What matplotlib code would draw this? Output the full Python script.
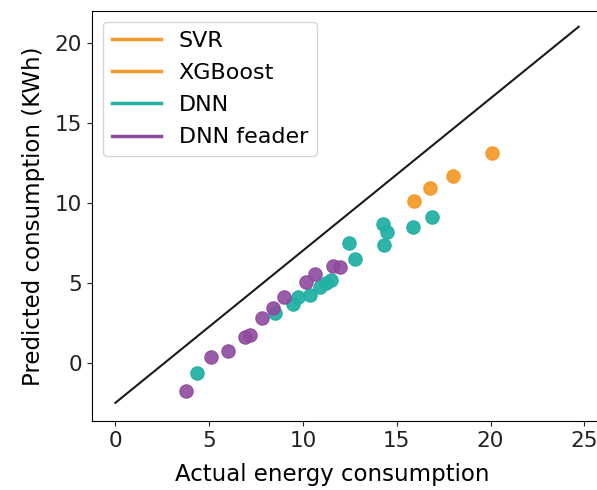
import matplotlib.pyplot as plt
from matplotlib.lines import Line2D

# values
svr_x = [15.9, 16.8]
svr_y = [10.1, 10.9]
xgb_x = [18.0, 20.1]
xgb_y = [11.7, 13.1]
dnn_x = [4.33, 8.49, 9.47, 9.74, 10.36, 10.89, 11.25, 11.51, 12.45, 12.75,
         14.26, 14.50, 14.31, 15.86, 16.89]
dnn_y = [-0.64, 3.11, 3.67, 4.14, 4.25, 4.73, 4.98, 5.19, 7.48, 6.48,
         8.69, 8.17, 7.38, 8.48, 9.14]
feeder_x = [3.79, 5.12, 5.98, 6.90, 7.20, 7.82, 8.40, 8.99, 10.18, 10.66, 11.60, 11.96]
feeder_y = [-1.73, 0.36, 0.77, 1.64, 1.75, 2.83, 3.42, 4.11, 5.08, 5.54, 6.02, 5.96]
ref_x = [0, 24.7]
ref_y = [-2.5, 21.0]

labels = ['SVR', 'XGBoost', 'DNN', 'DNN feader']
colors = ['#F59A2C', '#F59A2C', '#22B0A5', '#8E4A9E']

fig = plt.figure(figsize=(5.97, 4.90), dpi=100)
ax = fig.add_axes([0.154, 0.141, 0.864, 0.837])

ax.plot(ref_x, ref_y, color='#1a1a1a', lw=1.5)
ax.scatter(svr_x, svr_y, s=90, color=colors[0], alpha=0.95, zorder=3)
ax.scatter(xgb_x, xgb_y, s=90, color=colors[1], alpha=0.95, zorder=3)
ax.scatter(dnn_x, dnn_y, s=90, color=colors[2], alpha=0.95, zorder=3)
ax.scatter(feeder_x, feeder_y, s=90, color=colors[3], alpha=0.9, zorder=4)

ax.set_xlim(-1.25, 26.25)
ax.set_ylim(-3.63, 22.0)
ax.set_xticks([0, 5, 10, 15, 20, 25])
ax.set_yticks([0, 5, 10, 15, 20])
ax.spines['right'].set_visible(False)
ax.tick_params(labelsize=15.5, colors='#222222')
ax.set_xlabel('Actual energy consumption', fontsize=16.5, labelpad=9, x=0.465)
ax.set_ylabel('Predicted consumption (KWh)', fontsize=16.5, labelpad=7)

handles = [Line2D([0], [0], color=c, lw=2.5) for c in colors]
ax.legend(handles, labels, loc='upper left', fontsize=16, handlelength=2.2,
          borderaxespad=0.5, labelspacing=0.55)

fig.savefig('out.png', dpi=100)
